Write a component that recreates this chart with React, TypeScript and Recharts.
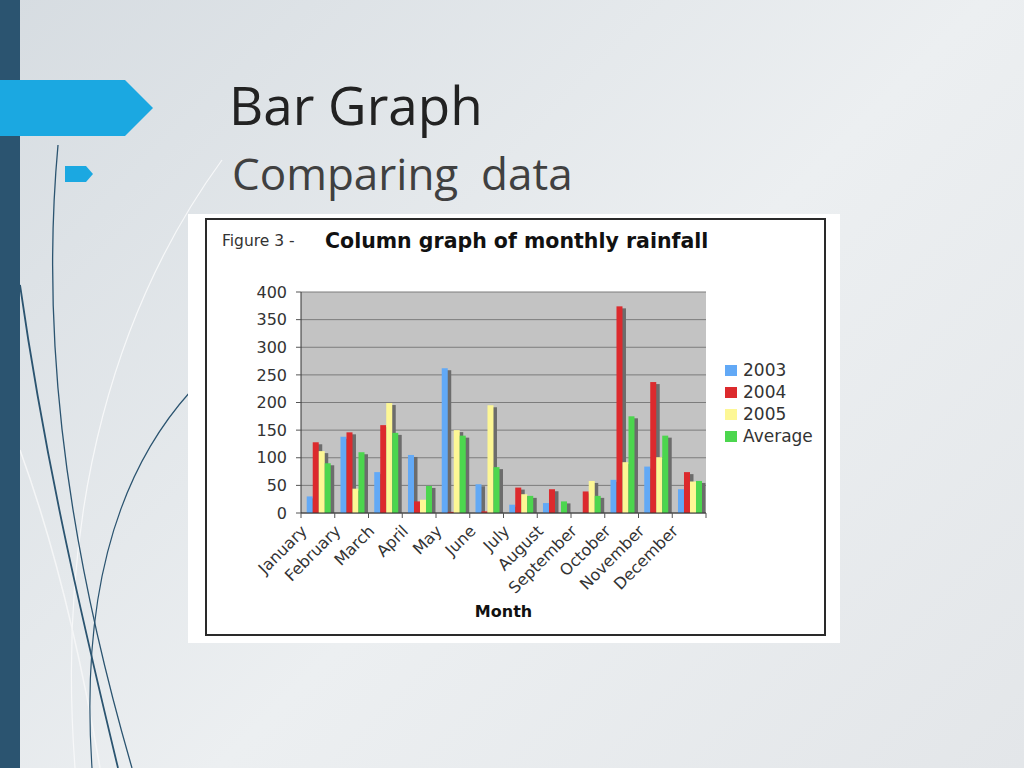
import React from 'react';
import { BarChart, Bar, XAxis, YAxis, CartesianGrid, Legend } from 'recharts';

const months = ['January', 'February', 'March', 'April', 'May', 'June', 'July', 'August', 'September', 'October', 'November', 'December'];
const rain2003 = [30, 138, 74, 105, 262, 52, 15, 18, 0, 60, 84, 43];
const rain2004 = [128, 146, 159, 21, 2, 3, 46, 43, 39, 374, 237, 74];
const rain2005 = [112, 44, 199, 24, 150, 195, 34, 0, 58, 92, 101, 57];
const rainAverage = [90, 110, 145, 49, 140, 83, 31, 21, 31, 175, 140, 58];
const yTicks = [0, 50, 100, 150, 200, 250, 300, 350, 400];

const seriesList = [
  { key: 'y2003', name: '2003', color: '#62a9f6' },
  { key: 'y2004', name: '2004', color: '#dc2a2d' },
  { key: 'y2005', name: '2005', color: '#fdf795' },
  { key: 'avg', name: 'Average', color: '#4cd64e' },
];

const data = months.map((month, i) => ({
  month,
  y2003: rain2003[i],
  y2004: rain2004[i],
  y2005: rain2005[i],
  avg: rainAverage[i],
}));

const font = '"DejaVu Sans", Verdana, sans-serif';

// bar with the grey drop shadow to the right
const ShadowBar = (props: any) => {
  const { x, y, width, height, fill } = props;
  if (!height || height <= 0) return null;
  return (
    <g>
      <rect x={x + 3.5} y={y + 2} width={width} height={Math.max(height - 2, 0)} fill="#6c6c6c" />
      <rect x={x} y={y} width={width} height={height} fill={fill} />
    </g>
  );
};

const MonthTick = (props: any) => {
  const { x, y, payload, index } = props;
  const half = payload.offset || 0;
  const ax = x - 10;
  const ay = y + 14;
  return (
    <g>
      <line x1={x - half} y1={y - 5} x2={x - half} y2={y} stroke="#555" />
      {index === months.length - 1 && (
        <line x1={x + half} y1={y - 5} x2={x + half} y2={y} stroke="#555" />
      )}
      <text
        x={ax}
        y={ay}
        textAnchor="end"
        transform={`rotate(-45, ${ax}, ${ay})`}
        fontSize={16}
        fill="#333"
        fontFamily={font}
      >
        {payload.value}
      </text>
    </g>
  );
};

const LegendBox = () => (
  <div style={{ fontFamily: font, fontSize: 17, color: '#333' }}>
    {seriesList.map((s) => (
      <div key={s.key} style={{ display: 'flex', alignItems: 'center', height: 22 }}>
        <span style={{ display: 'inline-block', width: 12, height: 11, background: s.color, marginRight: 6 }} />
        <span>{s.name}</span>
      </div>
    ))}
  </div>
);

export default function App() {
  return (
    <div
      style={{
        position: 'absolute',
        left: 0,
        top: 0,
        width: 1024,
        height: 768,
        overflow: 'hidden',
        background: 'linear-gradient(135deg, #d6dce1 0%, #eceff1 55%, #e3e6e9 100%)',
      }}
    >
      <svg width={1024} height={768} style={{ position: 'absolute', left: 0, top: 0 }}>
        <path d="M 222 160 C 120 300, 55 500, 75 768" stroke="#f7f8f9" strokeWidth={1.2} fill="none" />
        <path d="M 20 450 C 60 560, 85 680, 100 768" stroke="#f5f6f7" strokeWidth={1.5} fill="none" />
        <path d="M 58 145 C 42 320, 60 520, 132 768" stroke="#2b5470" strokeWidth={1.3} fill="none" />
        <path d="M 20 285 C 45 460, 80 610, 118 768" stroke="#2b5470" strokeWidth={1.8} fill="none" />
        <path d="M 190 392 C 120 470, 80 590, 92 768" stroke="#2b5470" strokeWidth={1.2} fill="none" />
        <rect x={0} y={0} width={20} height={768} fill="#2b5470" />
        <polygon points="0,80 125,80 153,108 125,136 0,136" fill="#1ba8e1" />
        <polygon points="65,166 86,166 93,174 86,182 65,182" fill="#1ba8e1" />
      </svg>

      <div
        style={{
          position: 'absolute',
          left: 229,
          top: 78,
          fontFamily: '"Open Sans", sans-serif',
          fontSize: 53,
          lineHeight: 1,
          color: '#222',
          whiteSpace: 'pre',
        }}
      >
        Bar Graph
      </div>
      <div
        style={{
          position: 'absolute',
          left: 232,
          top: 151,
          fontFamily: '"Open Sans", sans-serif',
          fontSize: 44,
          lineHeight: 1,
          color: '#404040',
          whiteSpace: 'pre',
        }}
      >
        Comparing  data
      </div>

      <div style={{ position: 'absolute', left: 188, top: 214, width: 652, height: 429, background: '#fff' }}>
        <div
          style={{
            position: 'absolute',
            left: 17,
            top: 4,
            width: 617,
            height: 414,
            border: '2px solid #2a2a2a',
          }}
        />
        <div
          style={{
            position: 'absolute',
            left: 34,
            top: 20,
            fontFamily: font,
            fontSize: 15.5,
            lineHeight: 1,
            color: '#333',
            whiteSpace: 'pre',
          }}
        >
          Figure 3 -
        </div>
        <div
          style={{
            position: 'absolute',
            left: 137,
            top: 17,
            fontFamily: font,
            fontWeight: 700,
            fontSize: 20.5,
            lineHeight: 1,
            color: '#111',
            whiteSpace: 'pre',
          }}
        >
          Column graph of monthly rainfall
        </div>

        <BarChart
          width={652}
          height={429}
          data={data}
          margin={{ top: 78, right: 134, bottom: 0, left: 0 }}
          barCategoryGap="17%"
          barGap={0}
          style={{ position: 'absolute', left: 0, top: 0 }}
        >
          <CartesianGrid vertical={false} stroke="#7c7c7c" fill="#c3c3c3" fillOpacity={1} />
          <XAxis
            dataKey="month"
            interval={0}
            height={130}
            tickLine={false}
            tickSize={5}
            tickMargin={0}
            axisLine={{ stroke: '#333' }}
            tick={<MonthTick />}
            label={{
              value: 'Month',
              position: 'insideBottom',
              offset: 26,
              style: { fontFamily: font, fontWeight: 700, fontSize: 16, fill: '#111' },
            }}
          />
          <YAxis
            width={113}
            domain={[0, 400]}
            ticks={yTicks}
            interval={0}
            tickSize={5}
            tickMargin={9}
            tickLine={{ stroke: '#555' }}
            axisLine={{ stroke: '#333' }}
            tick={{ fontSize: 16, fill: '#333', fontFamily: font }}
          />
          <YAxis
            yAxisId="edge"
            orientation="right"
            width={0}
            domain={[0, 400]}
            tick={false}
            tickLine={false}
            axisLine={{ stroke: '#808080' }}
          />
          <Legend
            layout="vertical"
            align="center"
            verticalAlign="middle"
            content={<LegendBox />}
            wrapperStyle={{ left: 537, top: 145, width: 110 }}
          />
          {seriesList.map((s) => (
            <Bar
              key={s.key}
              dataKey={s.key}
              name={s.name}
              fill={s.color}
              shape={<ShadowBar />}
              isAnimationActive={false}
            />
          ))}
        </BarChart>
      </div>
    </div>
  );
}
